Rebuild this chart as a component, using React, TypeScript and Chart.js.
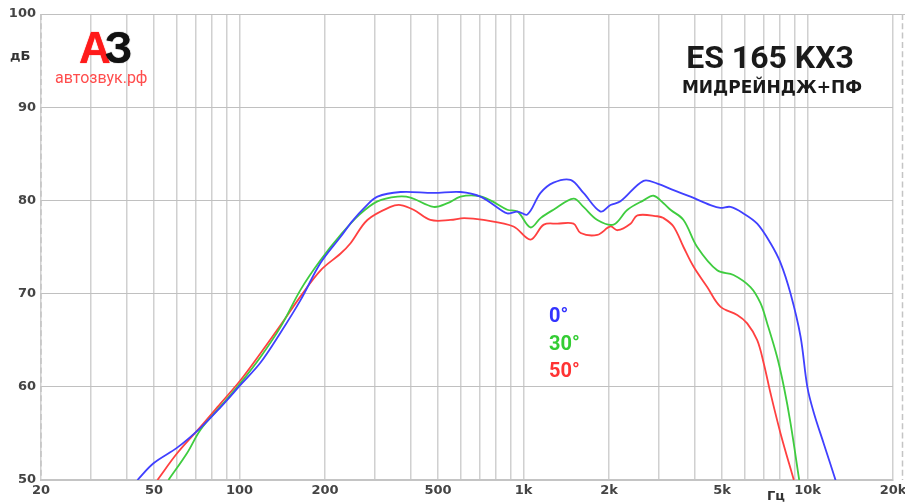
import React, { useEffect, useRef } from "react";
import { Chart, registerables } from "chart.js";

Chart.register(...registerables);

// ---- axis ticks ----
const X_GRID_VALUES = [20, 30, 40, 50, 60, 70, 80, 90, 100, 200, 300, 400, 500, 600, 700, 800, 900, 1000, 2000, 3000, 4000, 5000, 6000, 7000, 8000, 9000, 10000, 20000];
const X_TICK_VALUES = [20, 50, 100, 200, 500, 1000, 2000, 5000, 10000, 20000];
const X_TICK_LABELS = ["20", "50", "100", "200", "500", "1k", "2k", "5k", "10k", "20k"];
const Y_TICK_VALUES = [50, 60, 70, 80, 90, 100];

// ---- series: 0° ----
const DEG0_FREQ = [43.7, 49.8, 60.5, 72.9, 85.7, 100.8, 118.6, 139.4, 164, 193, 227, 250, 275, 306, 369, 482, 600, 705, 830, 877, 953, 1033, 1148, 1275, 1464, 1626, 1867, 2024, 2195, 2646, 2960, 3374, 3874, 4553, 4933, 5355, 5951, 6651, 7410, 8036, 8714, 9450, 9985, 10530, 11410, 12550];
const DEG0_DB = [50, 51.8, 53.5, 55.6, 57.8, 60.2, 62.6, 65.8, 69.3, 73.3, 76.1, 77.8, 79.2, 80.4, 80.9, 80.8, 80.9, 80.4, 79.0, 78.6, 78.8, 78.5, 80.8, 81.9, 82.2, 80.8, 78.8, 79.5, 79.9, 82.1, 81.8, 81.1, 80.4, 79.5, 79.2, 79.3, 78.6, 77.5, 75.4, 73.3, 70.0, 65.4, 60.0, 57.2, 53.9, 50];

// ---- series: 30° ----
const DEG30_FREQ = [56.2, 65.4, 72.9, 85.7, 100.8, 118.6, 139.4, 164, 193, 227, 265, 306, 360, 400, 482, 540, 600, 688, 765, 877, 953, 1058, 1148, 1275, 1500, 1626, 1820, 2075, 2324, 2646, 2870, 3112, 3292, 3659, 4089, 4808, 5488, 6297, 6825, 7213, 7817, 8256, 8714, 9350];
const DEG30_DB = [50, 52.9, 55.4, 57.9, 60.4, 63.2, 66.4, 70.4, 73.6, 76.3, 78.5, 79.9, 80.4, 80.3, 79.3, 79.7, 80.4, 80.5, 80.0, 79.0, 78.8, 77.1, 78.1, 79.0, 80.2, 79.3, 77.9, 77.4, 79.0, 80.0, 80.5, 79.7, 79.0, 77.9, 75.0, 72.5, 72.0, 70.7, 69.0, 66.8, 63.2, 60.0, 56.1, 50];

// ---- series: 50° ----
const DEG50_FREQ = [51.4, 60.4, 72.9, 85.7, 100.8, 118.6, 139.4, 164, 193, 227, 246, 282, 340, 369, 410, 470, 553, 618, 723, 922, 1058, 1179, 1317, 1500, 1589, 1820, 2024, 2143, 2381, 2518, 2960, 3112, 3374, 3659, 3968, 4434, 4933, 5656, 6132, 6651, 7014, 7410, 8036, 8950];
const DEG50_DB = [50, 52.9, 55.7, 58.2, 60.7, 63.6, 66.6, 69.7, 72.5, 74.3, 75.4, 77.9, 79.3, 79.5, 79.0, 77.9, 77.9, 78.1, 77.9, 77.2, 75.8, 77.4, 77.5, 77.5, 76.5, 76.3, 77.2, 76.8, 77.5, 78.4, 78.3, 78.1, 77.2, 75.0, 72.9, 70.7, 68.6, 67.7, 66.8, 65.0, 62.5, 59.3, 55.0, 50];

const SERIES_LABELS = ["0°", "30°", "50°"];
const SERIES_COLORS = ["#4040ff", "#3fcc3f", "#ff4040"];
const SERIES_TEXT_COLORS = ["#3333ff", "#33cc33", "#ff3333"];
const SERIES_FREQ = [DEG0_FREQ, DEG30_FREQ, DEG50_FREQ];
const SERIES_DB = [DEG0_DB, DEG30_DB, DEG50_DB];

const TITLE = "ES 165 KX3";
const SUBTITLE = "МИДРЕЙНДЖ+ПФ";
const Y_UNIT = "дБ";
const X_UNIT = "Гц";

export default function App() {
  const ref = useRef<HTMLCanvasElement>(null);

  useEffect(() => {
    const canvas = ref.current;
    if (!canvas) return;

    const extras = {
      id: "extras",
      beforeDatasetsDraw(chart: any) {
        const { ctx, chartArea } = chart;
        const y = chart.scales.y;
        ctx.save();
        // top line extends to the right edge
        ctx.strokeStyle = "#c0c0c0";
        ctx.lineWidth = 1;
        const yt = Math.round(y.getPixelForValue(100)) + 0.5;
        ctx.beginPath();
        ctx.moveTo(chartArea.right, yt);
        ctx.lineTo(chart.width, yt);
        ctx.stroke();
        // dashed left and right borders
        ctx.strokeStyle = "#c4c4c4";
        ctx.lineWidth = 1.5;
        ctx.setLineDash([6, 3.3]);
        ctx.beginPath();
        ctx.moveTo(chartArea.left, chartArea.top);
        ctx.lineTo(chartArea.left, chartArea.bottom);
        ctx.moveTo(chart.width - 2.5, chartArea.top);
        ctx.lineTo(chart.width - 2.5, chartArea.bottom);
        ctx.stroke();
        ctx.restore();
      },
    };

    const tickFont = { family: "'DejaVu Sans'", weight: "bold" as const, size: 13 };

    const chart = new Chart(canvas, {
      type: "line",
      data: {
        datasets: SERIES_LABELS.map((label, si) => ({
          label,
          data: SERIES_FREQ[si].map((f, i) => ({ x: f, y: SERIES_DB[si][i] })),
          borderColor: SERIES_COLORS[si],
          backgroundColor: SERIES_COLORS[si],
          borderWidth: 1.8,
          pointRadius: 0,
          tension: 0.35,
          fill: false,
        })),
      },
      options: {
        animation: false,
        responsive: false,
        devicePixelRatio: 1,
        layout: { padding: { left: 0, right: 12, top: 14, bottom: 0 } },
        plugins: {
          legend: { display: false },
          tooltip: { enabled: false },
          title: { display: false },
        },
        scales: {
          x: {
            type: "logarithmic",
            min: 20,
            max: 20000,
            position: "bottom",
            afterBuildTicks: (s: any) => {
              s.ticks = X_GRID_VALUES.map((v) => ({ value: v }));
            },
            afterFit: (s: any) => {
              s.height = 22;
              s.paddingLeft = 0;
              s.paddingRight = 0;
            },
            ticks: {
              autoSkip: false,
              maxRotation: 0,
              minRotation: 0,
              padding: 3,
              color: "#444",
              font: tickFont,
              callback: (v: any) => {
                const idx = X_TICK_VALUES.indexOf(Number(v));
                return idx >= 0 ? X_TICK_LABELS[idx] : "";
              },
            },
            grid: { color: "#d0d0d0", lineWidth: 1.5, drawTicks: false },
            border: { color: "#c4c4c4", width: 2 },
          },
          y: {
            type: "linear",
            min: 50,
            max: 100,
            afterBuildTicks: (s: any) => {
              s.ticks = Y_TICK_VALUES.map((v) => ({ value: v }));
            },
            afterFit: (s: any) => {
              s.width = 41;
              s.paddingTop = 0;
              s.paddingBottom = 0;
            },
            ticks: {
              padding: 5,
              color: "#444",
              font: tickFont,
              callback: (v: any) => String(v),
            },
            grid: { color: "#c0c0c0", lineWidth: 1, drawTicks: false },
            border: { display: false },
          },
        },
      },
      plugins: [extras],
    });

    return () => chart.destroy();
  }, []);

  const abs = (style: React.CSSProperties): React.CSSProperties => ({
    position: "absolute",
    whiteSpace: "nowrap",
    lineHeight: 1,
    margin: 0,
    ...style,
  });

  return (
    <div style={{ position: "absolute", left: 0, top: 0, width: 905, height: 502, background: "#fff", overflow: "hidden" }}>
      <canvas ref={ref} width={905} height={502} style={{ display: "block", width: 905, height: 502 }} />
      {/* logo */}
      <div style={abs({ left: 79, top: 26, fontFamily: "'Liberation Sans', Arial, sans-serif", fontWeight: 900, fontSize: 44, letterSpacing: -6 })}>
        <span style={{ color: "#ff1a1a", textShadow: "0 0 1px #ff1a1a" }}>А</span>
        <span style={{ color: "#111", textShadow: "0 0 1px #111" }}>З</span>
      </div>
      <div style={abs({ left: 55, top: 70, fontFamily: "Roboto, sans-serif", fontSize: 16, color: "#ff4d4d" })}>автозвук.рф</div>
      {/* title */}
      <div style={abs({ left: 670, width: 200, top: 41, textAlign: "center", fontFamily: "Roboto, sans-serif", fontWeight: 700, fontSize: 32, color: "#1a1a1a" })}>{TITLE}</div>
      <div style={abs({ left: 670, width: 204, top: 79, textAlign: "center", fontFamily: "'DejaVu Sans', sans-serif", fontWeight: 700, fontSize: 17, color: "#1a1a1a" })}>{SUBTITLE}</div>
      {/* units */}
      <div style={abs({ left: 10, top: 49, fontFamily: "'DejaVu Sans', sans-serif", fontWeight: 700, fontSize: 13, color: "#333" })}>{Y_UNIT}</div>
      <div style={abs({ left: 767, top: 489, fontFamily: "'DejaVu Sans', sans-serif", fontWeight: 700, fontSize: 13, color: "#333" })}>{X_UNIT}</div>
      {/* legend */}
      {SERIES_LABELS.map((label, i) => (
        <div key={label} style={abs({ left: 549, top: 305 + i * 27.5, fontFamily: "Roboto, sans-serif", fontWeight: 700, fontSize: 20, color: SERIES_TEXT_COLORS[i] })}>{label}</div>
      ))}
    </div>
  );
}
